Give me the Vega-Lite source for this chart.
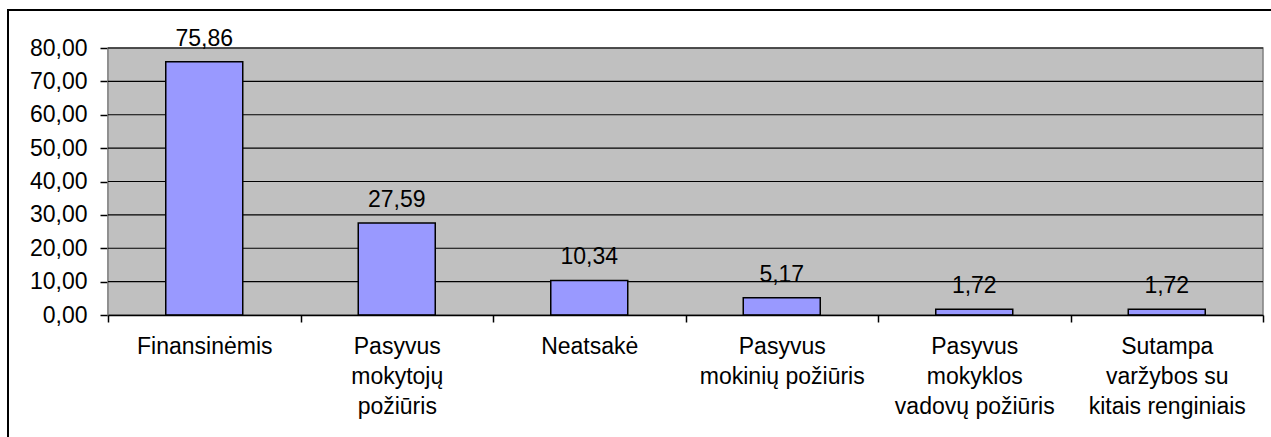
{
  "$schema": "https://vega.github.io/schema/vega-lite/v6.json",
  "autosize": {"type": "none"},
  "padding": {"left": 8, "top": 10, "right": 0, "bottom": 0},
  "width": 1290,
  "height": 450,
  "background": "white",
  "config": {
    "locale": {"number": {"decimal": ",", "thousands": " ", "grouping": [3], "currency": ["", " €"]}},
    "font": "Liberation Sans",
    "view": {"fill": "white", "stroke": "black", "strokeWidth": 2}
  },
  "datasets": {
    "bars": [
      {"cat": "Finansinėmis", "value": 75.86},
      {"cat": "Pasyvus\nmokytojų\npožiūris", "value": 27.59},
      {"cat": "Neatsakė", "value": 10.34},
      {"cat": "Pasyvus\nmokinių požiūris", "value": 5.17},
      {"cat": "Pasyvus\nmokyklos\nvadovų požiūris", "value": 1.72},
      {"cat": "Sutampa\nvaržybos su\nkitais renginiais", "value": 1.72}
    ],
    "grid": [{"g": 10}, {"g": 20}, {"g": 30}, {"g": 40}, {"g": 50}, {"g": 60}, {"g": 70}, {"g": 80}],
    "frame": [{"lo": 0, "hi": 80}]
  },
  "layer": [
    {
      "data": {"name": "frame"},
      "mark": {"type": "rect", "fill": "#C0C0C0", "stroke": "#808080", "strokeWidth": 1.5},
      "encoding": {
        "x": {
          "datum": "Finansinėmis", "type": "nominal", "bandPosition": 0, "title": null,
          "scale": {
            "domain": ["Finansinėmis", "Pasyvus\nmokytojų\npožiūris", "Neatsakė", "Pasyvus\nmokinių požiūris", "Pasyvus\nmokyklos\nvadovų požiūris", "Sutampa\nvaržybos su\nkitais renginiais"],
            "paddingInner": 0, "paddingOuter": 0, "range": [100, 1255]
          },
          "axis": {
            "offset": -145, "title": null,
            "labelAngle": 0, "labelAlign": "center", "labelFontSize": 23, "labelColor": "black",
            "labelExpr": "split(datum.label, '\\n')", "labelLineHeight": 30,
            "labelPadding": 13, "labelBaseline": "top", "labelLimit": 300,
            "domainColor": "black", "domainWidth": 1.5,
            "tickColor": "black", "tickSize": 7, "tickWidth": 1.5, "tickBand": "extent",
            "grid": false
          }
        },
        "x2": {"datum": "Sutampa\nvaržybos su\nkitais renginiais", "bandPosition": 1},
        "y": {
          "field": "lo", "type": "quantitative", "title": null,
          "scale": {"domain": [0, 80], "nice": false, "range": [305, 38]},
          "axis": {
            "offset": -100, "title": null,
            "values": [0, 10, 20, 30, 40, 50, 60, 70, 80], "format": ".2f",
            "labelFontSize": 23, "labelColor": "black", "labelPadding": 13,
            "domainColor": "black", "domainWidth": 1.5,
            "tickColor": "black", "tickSize": 8, "tickWidth": 1.5,
            "grid": false
          }
        },
        "y2": {"field": "hi"}
      }
    },
    {
      "data": {"name": "grid"},
      "mark": {"type": "rule", "color": "black", "strokeWidth": 1.2},
      "encoding": {
        "x": {"datum": "Finansinėmis", "type": "nominal", "bandPosition": 0, "title": null},
        "x2": {"datum": "Sutampa\nvaržybos su\nkitais renginiais", "bandPosition": 1},
        "y": {"field": "g", "type": "quantitative", "title": null}
      }
    },
    {
      "data": {"name": "bars"},
      "mark": {"type": "bar", "fill": "#9999FF", "stroke": "black", "strokeWidth": 1.5, "width": {"band": 0.4}},
      "encoding": {
        "x": {"field": "cat", "type": "nominal", "sort": null, "title": null},
        "y": {"field": "value", "type": "quantitative", "title": null}
      }
    },
    {
      "data": {"name": "bars"},
      "mark": {"type": "text", "fontSize": 23, "color": "black", "baseline": "alphabetic", "dy": -16},
      "encoding": {
        "x": {"field": "cat", "type": "nominal", "sort": null, "title": null},
        "y": {"field": "value", "type": "quantitative", "title": null},
        "text": {"field": "value", "type": "quantitative", "format": ".2f"}
      }
    }
  ]
}
